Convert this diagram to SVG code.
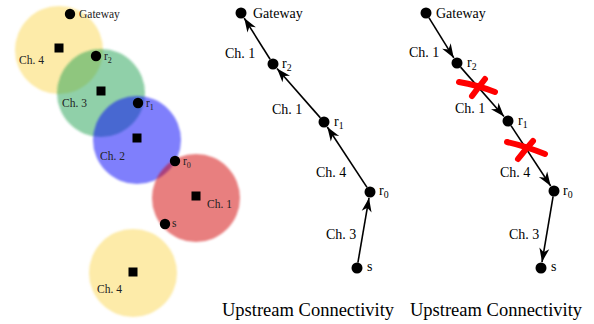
<svg xmlns="http://www.w3.org/2000/svg" width="594" height="324" viewBox="0 0 594 324">
<style>
text{font-family:"Liberation Serif","Times New Roman",serif;fill:#000}
.sm{font-size:11.5px;fill:#222}
.md{font-size:14px}
.ttl{font-size:18.5px}
.sub{font-size:70%}
.dot{fill:#000}
.sq{fill:#000}
.cell{filter:url(#soft)}
.edge{stroke:#000;stroke-width:1.6;fill:none;marker-end:url(#ah)}
.x{stroke:#ff0000;stroke-width:6;stroke-linecap:round;fill:none}
</style>
<defs>
<filter id="soft" x="-10%" y="-10%" width="120%" height="120%"><feGaussianBlur stdDeviation="0.8"/></filter>
<marker id="ah" viewBox="-15 -6 16 12" refX="0" refY="0" markerWidth="16" markerHeight="12" markerUnits="userSpaceOnUse" orient="auto">
<path d="M0,0 L-14,-5 L-10,0 L-14,5 Z" fill="#000"/>
</marker>
</defs>

<!-- Left panel: coverage cells -->
<g id="cells">
<circle class="cell" cx="59" cy="50" r="44" fill="#fbd751" fill-opacity="0.5"/>
<circle class="cell" cx="101" cy="93" r="44" fill="#25a151" fill-opacity="0.5"/>
<circle class="cell" cx="137" cy="140" r="44" fill="#0000f9" fill-opacity="0.5"/>
<circle class="cell" cx="196" cy="198" r="44" fill="#d10000" fill-opacity="0.5"/>
<circle class="cell" cx="133" cy="273" r="44" fill="#fbd751" fill-opacity="0.5"/>
</g>
<g id="cell-centers">
<rect class="sq" x="54.5" y="43.5" width="9" height="9"/>
<rect class="sq" x="96.5" y="86.5" width="9" height="9"/>
<rect class="sq" x="132.5" y="133.5" width="9" height="9"/>
<rect class="sq" x="191.5" y="191.5" width="9" height="9"/>
<rect class="sq" x="128.5" y="267.5" width="9" height="9"/>
</g>
<g id="cell-labels">
<text class="sm" x="19" y="64">Ch. 4</text>
<text class="sm" x="62" y="107">Ch. 3</text>
<text class="sm" x="100" y="160">Ch. 2</text>
<text class="sm" x="207" y="208">Ch. 1</text>
<text class="sm" x="97" y="293">Ch. 4</text>
</g>
<g id="left-gateway"><circle class="dot" cx="70" cy="14" r="5.2"/><text class="sm" x="79" y="18">Gateway</text></g>
<g id="left-r2"><circle class="dot" cx="96" cy="56" r="5.2"/><text class="sm" x="104" y="60">r<tspan class="sub" dy="2.5">2</tspan></text></g>
<g id="left-r1"><circle class="dot" cx="138" cy="103" r="5.2"/><text class="sm" x="146" y="107">r<tspan class="sub" dy="2.5">1</tspan></text></g>
<g id="left-r0"><circle class="dot" cx="175" cy="161" r="5.2"/><text class="sm" x="183" y="165">r<tspan class="sub" dy="2.5">0</tspan></text></g>
<g id="left-s"><circle class="dot" cx="165" cy="224" r="5.2"/><text class="sm" x="172" y="227">s</text></g>

<!-- Middle panel -->
<g id="connectors">
<path class="edge" d="M357.9,262.6 L369.0,197.9"/>
<path class="edge" d="M367.0,187.4 L327.3,127.0"/>
<path class="edge" d="M320.4,117.9 L277.0,68.5"/>
<path class="edge" d="M270.1,59.3 L244.2,18.1"/>
<path class="edge" d="M428.9,17.7 L453.8,57.9"/>
<path class="edge" d="M460.6,67.1 L504.0,116.5"/>
<path class="edge" d="M511.0,125.6 L550.7,186.0"/>
<path class="edge" d="M553.1,196.4 L542.0,262.1"/>
</g>
<g id="mid-gateway"><circle class="dot" cx="241" cy="13" r="5.5"/><text class="md" x="253" y="18">Gateway</text></g>
<g id="mid-r2"><circle class="dot" cx="273" cy="64" r="5.5"/><text class="md" x="282" y="68">r<tspan class="sub" dy="3">2</tspan></text></g>
<g id="mid-r1"><circle class="dot" cx="324" cy="122" r="5.5"/><text class="md" x="334" y="126">r<tspan class="sub" dy="3">1</tspan></text></g>
<g id="mid-r0"><circle class="dot" cx="370" cy="192" r="5.5"/><text class="md" x="379" y="195">r<tspan class="sub" dy="3">0</tspan></text></g>
<g id="mid-s"><circle class="dot" cx="357" cy="268" r="5.5"/><text class="md" x="367" y="271">s</text></g>
<g id="mid-labels">
<text class="md" x="225" y="58">Ch. 1</text>
<text class="md" x="272" y="114">Ch. 1</text>
<text class="md" x="316" y="177">Ch. 4</text>
<text class="md" x="326" y="239">Ch. 3</text>
<text class="ttl" x="222" y="316">Upstream Connectivity</text>
</g>

<!-- Right panel -->
<g id="right-gateway"><circle class="dot" cx="426" cy="13" r="5.5"/><text class="md" x="436" y="18">Gateway</text></g>
<g id="right-r2"><circle class="dot" cx="457" cy="63" r="5.5"/><text class="md" x="467" y="67">r<tspan class="sub" dy="3">2</tspan></text></g>
<g id="right-r1"><circle class="dot" cx="508" cy="121" r="5.5"/><text class="md" x="518" y="125">r<tspan class="sub" dy="3">1</tspan></text></g>
<g id="right-r0"><circle class="dot" cx="554" cy="191" r="5.5"/><text class="md" x="563" y="195">r<tspan class="sub" dy="3">0</tspan></text></g>
<g id="right-s"><circle class="dot" cx="541" cy="268" r="5.5"/><text class="md" x="551" y="271">s</text></g>
<g id="right-labels">
<text class="md" x="409" y="57">Ch. 1</text>
<text class="md" x="455" y="113">Ch. 1</text>
<text class="md" x="500" y="177">Ch. 4</text>
<text class="md" x="509" y="239">Ch. 3</text>
<text class="ttl" x="410" y="316">Upstream Connectivity</text>
</g>
<g id="cross-marks">
<path class="x" d="M459,82 Q477,85 495,92"/>
<path class="x" d="M485,79 Q478,88 472,96"/>
<path class="x" d="M507,142 Q525,146 545,154"/>
<path class="x" d="M533,141 Q525,150 518,159"/>
</g>
</svg>
